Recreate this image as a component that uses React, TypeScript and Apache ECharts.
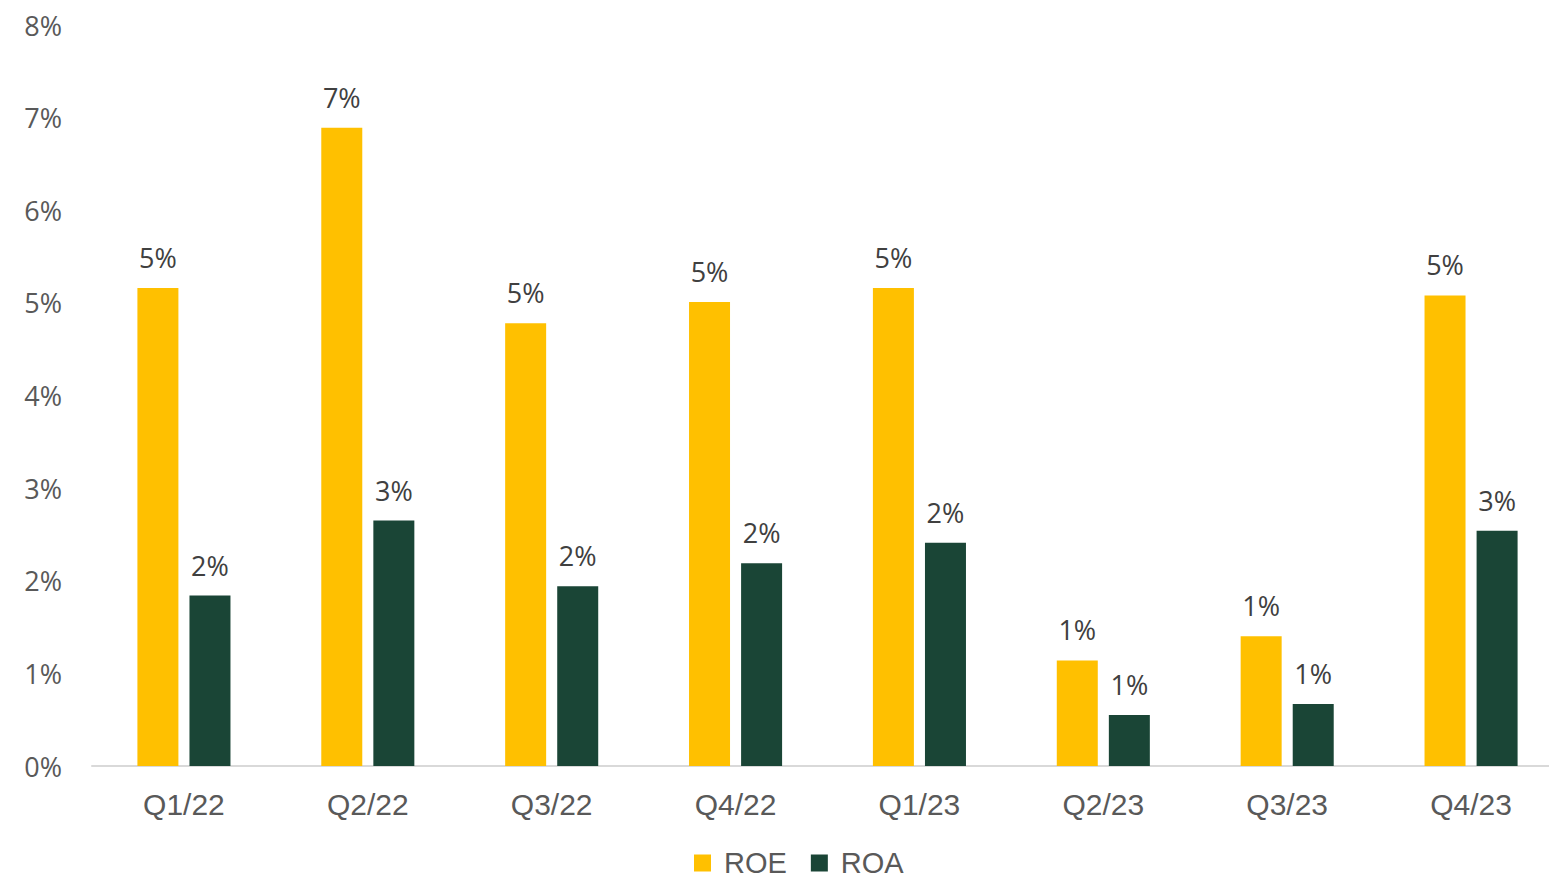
import React, { useEffect, useRef } from "react";
import * as echarts from "echarts";

const categories = ["Q1/22", "Q2/22", "Q3/22", "Q4/22", "Q1/23", "Q2/23", "Q3/23", "Q4/23"];
const roeValues = [5.16, 6.89, 4.78, 5.01, 5.16, 1.14, 1.4, 5.08];
const roaValues = [1.84, 2.65, 1.94, 2.19, 2.41, 0.55, 0.67, 2.54];
const yTicks = { min: 0, max: 8, interval: 1 };

export default function App() {
  const ref = useRef<HTMLDivElement>(null);
  useEffect(() => {
    if (!ref.current) return;
    const chart = echarts.init(ref.current, undefined, { renderer: "svg" });
    const labelStyle = {
      show: true,
      position: "top",
      distance: 17,
      fontFamily: "Open Sans",
      fontSize: 27,
      color: "#404040",
      formatter: (p: any) => `${Math.round(p.value).toFixed(0)}%`,
    };
    chart.setOption({
      animation: false,
      backgroundColor: "#ffffff",
      grid: { left: 92, right: 0, top: 25, bottom: 114, containLabel: false },
      legend: {
        left: 694,
        top: 848,
        padding: 0,
        itemWidth: 17,
        itemHeight: 17,
        itemGap: 24,
        icon: "rect",
        textStyle: {
          fontFamily: "Liberation Sans",
          fontSize: 29,
          lineHeight: 30,
          color: "#595959",
          padding: [0, 0, 0, 8],
        },
        data: ["ROE", "ROA"],
      },
      xAxis: {
        type: "category",
        data: categories,
        axisLine: { lineStyle: { color: "#d9d9d9", width: 2 } },
        axisTick: { show: false },
        axisLabel: { fontFamily: "Liberation Sans", fontSize: 30, color: "#595959", margin: 23 },
      },
      yAxis: {
        type: "value",
        min: yTicks.min,
        max: yTicks.max,
        interval: yTicks.interval,
        splitLine: { show: false },
        axisLine: { show: false },
        axisTick: { show: false },
        axisLabel: {
          fontFamily: "Open Sans",
          fontSize: 27,
          color: "#595959",
          margin: 30,
          formatter: "{value}%",
        },
      },
      series: [
        {
          name: "ROE",
          type: "bar",
          data: roeValues,
          barWidth: 41,
          barGap: "27%",
          itemStyle: { color: "#FFC000" },
          label: labelStyle,
        },
        {
          name: "ROA",
          type: "bar",
          data: roaValues,
          barWidth: 41,
          itemStyle: { color: "#1A4536" },
          label: labelStyle,
        },
      ],
    });
    return () => chart.dispose();
  }, []);
  return (
    <div
      style={{
        position: "absolute",
        left: 0,
        top: 0,
        width: 1549,
        height: 880,
        overflow: "hidden",
      }}
    >
      <div ref={ref} style={{ width: 1563, height: 880 }} />
    </div>
  );
}
